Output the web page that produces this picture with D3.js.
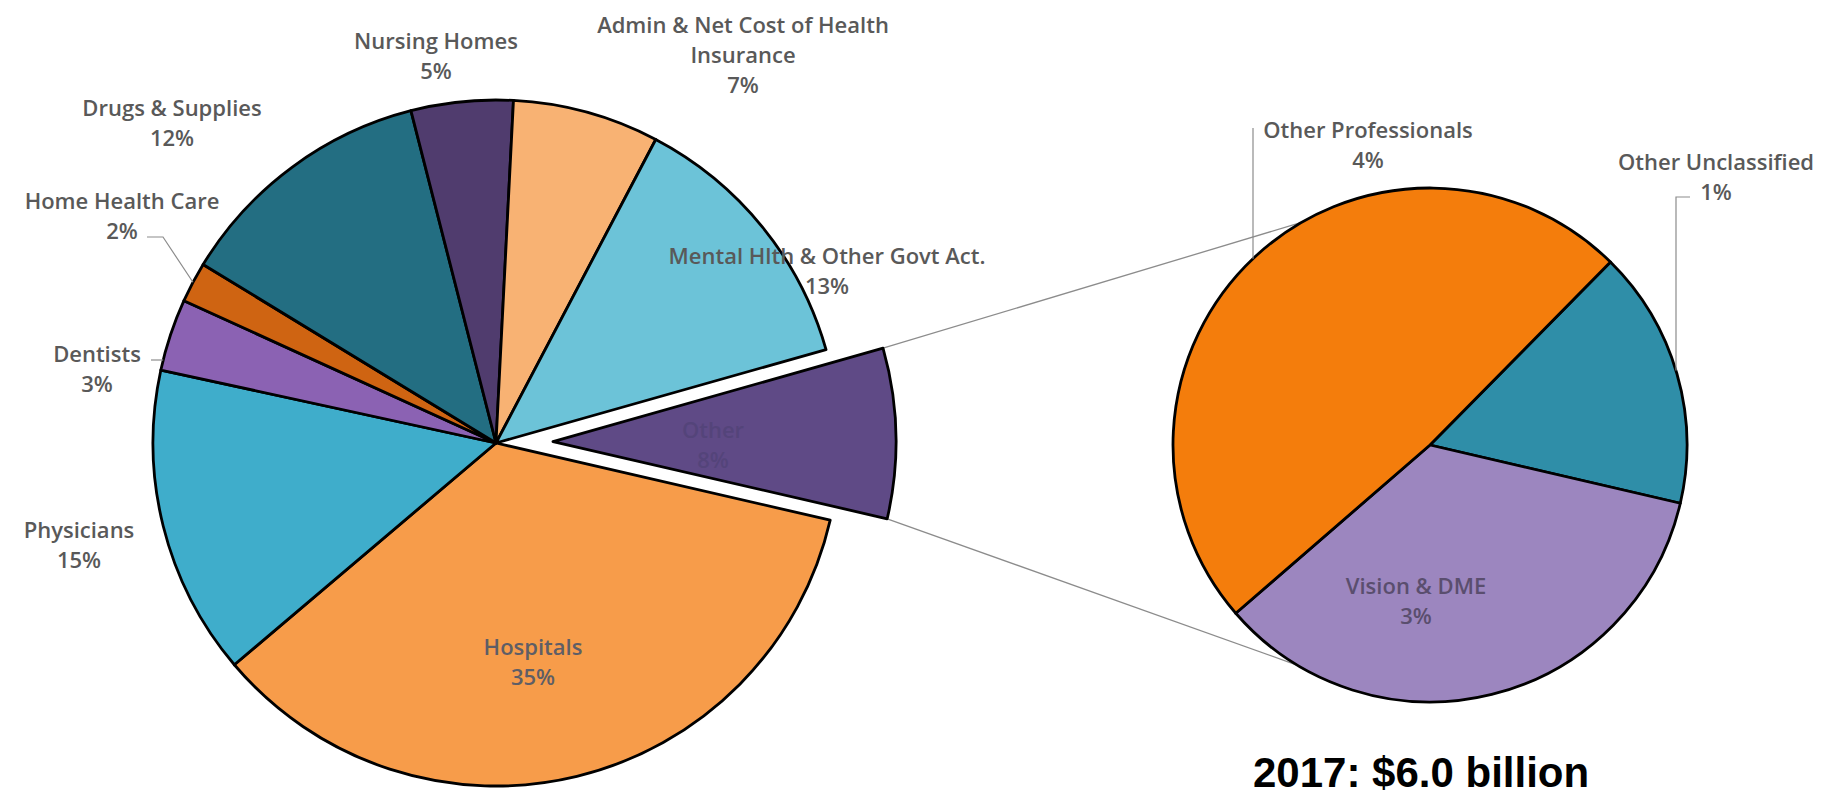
<!DOCTYPE html>
<html><head><meta charset="utf-8">
<script src="https://cdn.jsdelivr.net/npm/d3@7"></script>
<style>html,body{margin:0;padding:0;background:#fff;overflow:hidden}</style>
</head><body><svg id="chart" width="1832" height="799"></svg>
<script>
// ---------- data ----------
const mainCategories = ["Other", "Hospitals", "Physicians", "Dentists", "Home Health Care",
  "Drugs & Supplies", "Nursing Homes", "Admin & Net Cost of Health Insurance", "Mental Hlth & Other Govt Act."];
const mainValues = [8.0, 35.2, 14.6, 3.4, 1.9, 12.3, 4.8, 6.9, 12.9];
const mainPercentLabels = ["8%", "35%", "15%", "3%", "2%", "12%", "5%", "7%", "13%"];
const mainColors = ["#5f4a86", "#f79c4a", "#3fadcb", "#8b62b3", "#cf6412", "#236e82", "#503c6e", "#f8b273", "#6cc3d8"];

const subCategories = ["Other Unclassified", "Vision & DME", "Other Professionals"];
const subValues = [1.3, 2.8, 3.9];
const subPercentLabels = ["1%", "3%", "4%"];
const subColors = ["#2f8ea8", "#9c86bf", "#f47d0c"];

const titleText = "2017: $6.0 billion";

// ---------- layout ----------
const deg = Math.PI / 180;
const main = {cx: 496, cy: 443, r: 343, start: 74.2 * deg, explode: 57};
const sub = {cx: 1430, cy: 445, r: 257, start: 44.6 * deg};
const lineH = 30;
const fontFam = "'Open Sans', 'Liberation Sans', Arial, sans-serif";
const textColor = "#595959";

// label placement (name lines, center x, first baseline y, optional colour)
const mainLabelLayout = {
  "Other": {lines: ["Other"], x: 713, y: 438, color: "#54447a"},
  "Hospitals": {lines: ["Hospitals"], x: 533, y: 655, color: "#5e5e66"},
  "Physicians": {lines: ["Physicians"], x: 79, y: 538},
  "Dentists": {lines: ["Dentists"], x: 97, y: 362},
  "Home Health Care": {lines: ["Home Health Care"], x: 122, y: 209},
  "Drugs & Supplies": {lines: ["Drugs & Supplies"], x: 172, y: 116},
  "Nursing Homes": {lines: ["Nursing Homes"], x: 436, y: 49},
  "Admin & Net Cost of Health Insurance": {lines: ["Admin & Net Cost of Health", "Insurance"], x: 743, y: 33},
  "Mental Hlth & Other Govt Act.": {lines: ["Mental Hlth & Other Govt Act."], x: 827, y: 264}
};
const subLabelLayout = {
  "Other Unclassified": {lines: ["Other Unclassified"], x: 1716, y: 170},
  "Vision & DME": {lines: ["Vision & DME"], x: 1416, y: 594, color: "#5a4e6e"},
  "Other Professionals": {lines: ["Other Professionals"], x: 1368, y: 138}
};

const svg = d3.select("#chart");
const pt = (c, R, a) => [c.cx + R * Math.sin(a), c.cy - R * Math.cos(a)];

// ---------- pies ----------
const mainPie = d3.pie().sort(null).value(d => d)
  .startAngle(main.start).endAngle(main.start + 2 * Math.PI);
const mainArcs = mainPie(mainValues);
const subPie = d3.pie().sort(null).value(d => d)
  .startAngle(sub.start).endAngle(sub.start + 2 * Math.PI);
const subArcs = subPie(subValues);

const mainArcGen = d3.arc().innerRadius(0).outerRadius(main.r);
const subArcGen = d3.arc().innerRadius(0).outerRadius(sub.r);

// exploded slice offset (index 0 = "Other")
const ex = mainArcs[0];
const exMid = (ex.startAngle + ex.endAngle) / 2;
const exDx = main.explode * Math.sin(exMid), exDy = -main.explode * Math.cos(exMid);
const exCenter = {cx: main.cx + exDx, cy: main.cy + exDy};

// connector lines between exploded slice and secondary pie
const connG = svg.append("g").attr("stroke", "#8c8c8c").attr("stroke-width", 1.3).attr("fill", "none");
const exTop = pt(exCenter, main.r, ex.startAngle);
const exBot = pt(exCenter, main.r, ex.endAngle);
const subTop = pt(sub, sub.r, 330 * deg);
const subBot = pt(sub, sub.r, 211 * deg);
connG.append("line").attr("x1", exTop[0]).attr("y1", exTop[1]).attr("x2", subTop[0]).attr("y2", subTop[1]);
connG.append("line").attr("x1", exBot[0]).attr("y1", exBot[1]).attr("x2", subBot[0]).attr("y2", subBot[1]);

// main pie slices
const mainG = svg.append("g").attr("transform", `translate(${main.cx},${main.cy})`);
mainG.selectAll("path").data(mainArcs).join("path")
  .attr("d", mainArcGen)
  .attr("transform", (d, i) => i === 0 ? `translate(${exDx},${exDy})` : null)
  .attr("fill", (d, i) => mainColors[i])
  .attr("stroke", "#000").attr("stroke-width", 2.8).attr("stroke-linejoin", "round");

// secondary pie slices
const subG = svg.append("g").attr("transform", `translate(${sub.cx},${sub.cy})`);
subG.selectAll("path").data(subArcs).join("path")
  .attr("d", subArcGen)
  .attr("fill", (d, i) => subColors[i])
  .attr("stroke", "#000").attr("stroke-width", 2.8).attr("stroke-linejoin", "round");

// ---------- leader lines ----------
const leadG = svg.append("g").attr("stroke", "#8c8c8c").attr("stroke-width", 1.2).attr("fill", "none");
// Home Health Care: elbow to slice middle on the rim
{
  const a = mainArcs[4]; const m = (a.startAngle + a.endAngle) / 2;
  const e = pt(main, main.r, m);
  leadG.append("polyline").attr("points", [[147, 237], [163, 237], e].map(p => p.join(",")).join(" "));
}
// Dentists: short horizontal to the rim
{
  const y = 360; const x = main.cx - Math.sqrt(main.r * main.r - (main.cy - y) ** 2);
  leadG.append("line").attr("x1", 151).attr("y1", y).attr("x2", x).attr("y2", y);
}
// Other Professionals: vertical down to the rim
{
  const x = 1253; const y = sub.cy - Math.sqrt(sub.r * sub.r - (sub.cx - x) ** 2);
  leadG.append("line").attr("x1", x).attr("y1", 128).attr("x2", x).attr("y2", y);
}
// Other Unclassified: elbow down to the rim
{
  const x = 1676; const y = sub.cy - Math.sqrt(sub.r * sub.r - (x - sub.cx) ** 2);
  leadG.append("polyline").attr("points", [[1690, 197], [x, 197], [x, y]].map(p => p.join(",")).join(" "));
}

// ---------- labels ----------
function drawLabel(layout, pct) {
  const t = svg.append("text")
    .attr("font-family", fontFam).attr("font-size", 22).attr("font-weight", 600)
    .attr("fill", layout.color || textColor).attr("text-anchor", "middle");
  layout.lines.concat([pct]).forEach((s, i) => {
    t.append("tspan").attr("x", layout.x).attr("y", layout.y + i * lineH).text(s);
  });
}
mainCategories.forEach((c, i) => drawLabel(mainLabelLayout[c], mainPercentLabels[i]));
subCategories.forEach((c, i) => drawLabel(subLabelLayout[c], subPercentLabels[i]));

// ---------- title ----------
svg.append("text").attr("x", 1253).attr("y", 787)
  .attr("font-family", "'Liberation Sans', Arial, sans-serif")
  .attr("font-size", 42).attr("font-weight", 700).attr("fill", "#000")
  .text(titleText);
</script>
</body></html>
